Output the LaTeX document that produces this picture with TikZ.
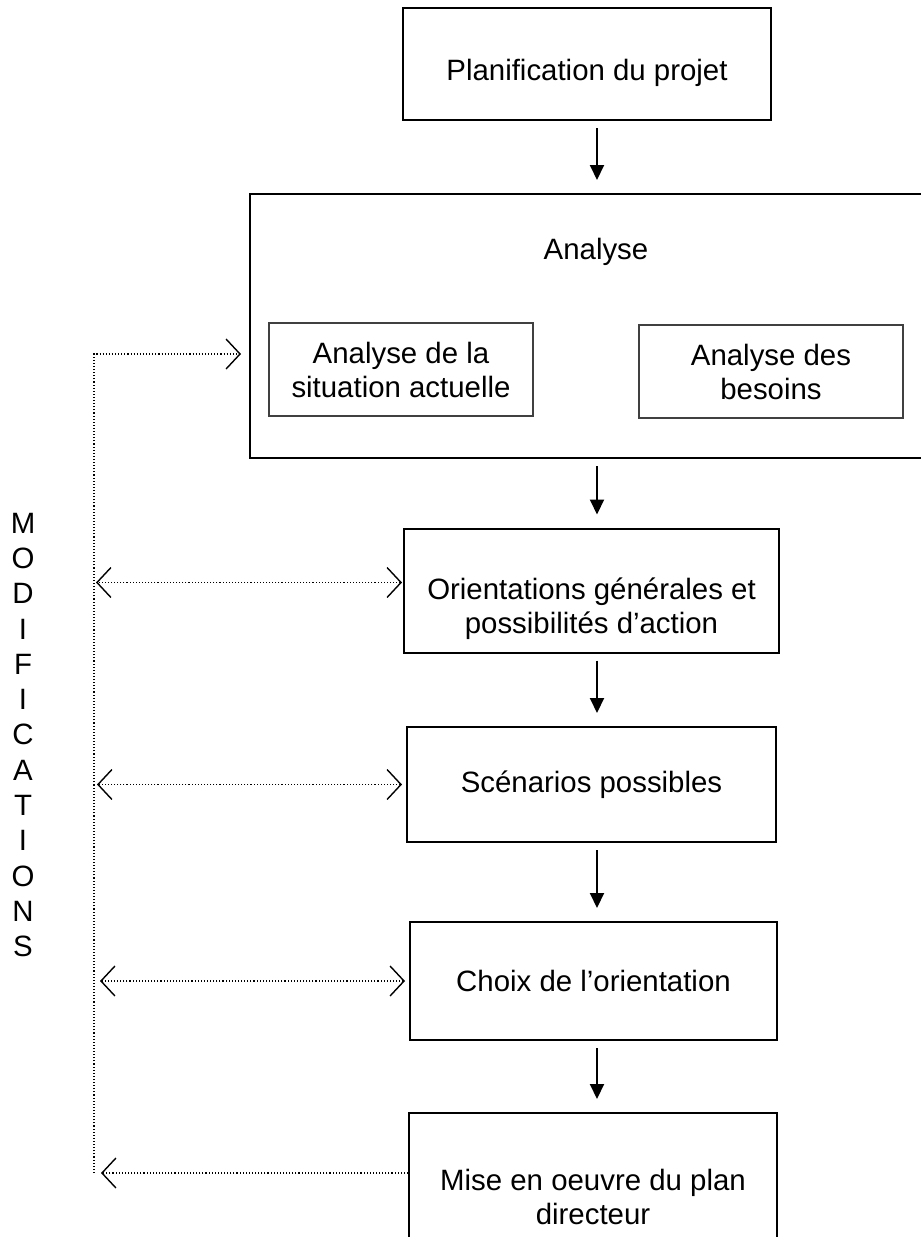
\documentclass[tikz,border=0pt]{standalone}
\usepackage{fontspec}
\setmainfont{Liberation Sans}
\usetikzlibrary{arrows.meta}

\tikzset{
	texte/.style={align=center, inner sep=0pt, font=\fontsize{14.7pt}{17pt}\selectfont},
	etape/.style={texte, draw, line width=1pt},
	sousetape/.style={etape, line width=0.7pt, draw=black!75},
	suite/.style={line width=1pt, -{Triangle[length=7.5pt,width=7pt]}, shorten <=3.5pt, shorten >=6.5pt},
	barbe/.tip={Straight Barb[length=7pt,width=15pt,line width=0.7pt]},
	retour/.style={line width=0.55pt, densely dotted},
}

\begin{document}
\begin{tikzpicture}[x=0.5pt, y=-0.5pt]
						\useasboundingbox (0,0) rectangle (921,1237);
						\clip (0,0) rectangle (921,1237);
						% etapes
						\node[etape, minimum width=184pt, minimum height=56pt, label={[texte, yshift=-4.5pt]center:Planification du projet}] (plan) at (587,64) {};
						\node[etape, minimum width=342.5pt, minimum height=132pt] (ana) at (592.5,326) {};
						\node[texte] (anatitre) at (596,252) {Analyse};
						\node[sousetape, minimum width=132pt, minimum height=46.5pt] (sit) at (401,369.5) {Analyse de la\\situation actuelle};
						\node[sousetape, minimum width=132pt, minimum height=46.5pt] (bes) at (771,371.5) {Analyse des\\besoins};
						\node[etape, minimum width=187.5pt, minimum height=62pt, label={[texte, yshift=-9pt]center:{Orientations générales et\\possibilités d’action}}] (ori) at (591.5,590.5) {};
						\node[etape, minimum width=184.5pt, minimum height=57.5pt] (scen) at (591.5,784.5) {Scénarios possibles};
						\node[etape, minimum width=183.5pt, minimum height=59pt] (choix) at (593.5,981) {Choix de l’orientation};
						\node[etape, minimum width=184pt, minimum height=84pt] (mise) at (593,1197) {Mise en oeuvre du plan\\directeur};
						\node[texte, font=\fontsize{14.7pt}{17.65pt}\selectfont] (modif) at (23,735) {M\\O\\D\\I\\F\\I\\C\\A\\T\\I\\O\\N\\S};
						% fleches
						\coordinate (axe) at (597,0);
						\draw[suite] (plan.south -| axe) -- (ana.north -| axe);
						\draw[suite] (ana.south -| axe) -- (ori.north -| axe);
						\draw[suite] (ori.south -| axe) -- (scen.north -| axe);
						\draw[suite] (scen.south -| axe) -- (choix.north -| axe);
						\draw[suite] (choix.south -| axe) -- (mise.north -| axe);
						% retours
						\coordinate (hautret) at (94,354);
						\coordinate (basret) at (94,1173);
						\draw[retour, -barbe, shorten >=4pt] (basret) -- (hautret) -- (ana.west |- hautret);
						\draw[retour, -barbe, shorten >=3.5pt] (mise.west |- basret) -- (basret);
						\draw[retour, barbe-barbe, shorten <=0.5pt, shorten >=1pt] ([yshift=4pt]ori.west) -- ([yshift=4pt]ori.west -| basret);
						\draw[retour, barbe-barbe, shorten <=2pt, shorten >=1.5pt] (scen.west) -- (scen.west -| basret);
						\draw[retour, barbe-barbe, shorten <=2pt, shorten >=3pt] (choix.west) -- (choix.west -| basret);
					\end{tikzpicture}
\end{document}
